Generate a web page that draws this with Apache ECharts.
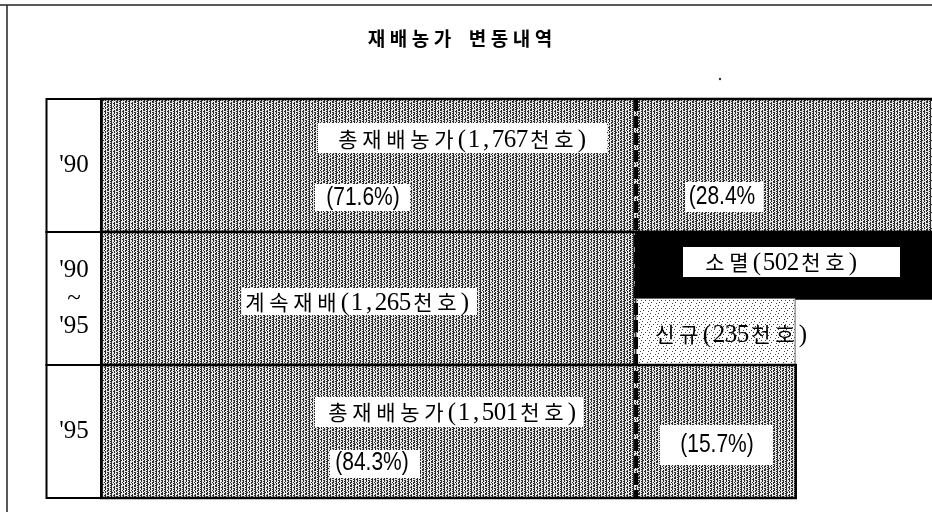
<!DOCTYPE html>
<html>
<head>
<meta charset="utf-8">
<title>재배농가 변동내역</title>
<script src="https://cdn.jsdelivr.net/npm/echarts/dist/echarts.min.js"></script>
<style>
  html, body { margin: 0; padding: 0; background: #fff; }
  #chart { width: 932px; height: 512px; }
</style>
</head>
<body>
<div id="chart"></div>
<script>
// 재배농가 변동내역 (단위: 천호)
const rowLabels = ["'90", "'90\n~\n'95", "'95"]
const farms1990 = 1767
const keptFarms = 1265
const lostFarms = 502
const newFarms = 235
const farms1995 = 1501
const share1990 = [71.6, 28.4]
const share1995 = [84.3, 15.7]

// 원본 도표는 비례가 아닌 모식도라서 로그 축으로 그 비율을 맞춘다
const scaleMin = 713
const scaleMax = 1737

const fmt = v => v.toLocaleString('en-US')

// 망점 무늬 (스캔한 회색 / 점 무늬 흉내)
function makeTile(rows, dark, light) {
  const c = document.createElement('canvas')
  c.width = rows[0].length
  c.height = rows.length
  const ctx = c.getContext('2d')
  rows.forEach((r, y) => {
    for (let x = 0; x < r.length; x++) {
      ctx.fillStyle = r[x] === '1' ? dark : light
      ctx.fillRect(x, y, 1, 1)
    }
  })
  return { image: c, repeat: 'repeat' }
}
const greyFill = makeTile([
  '100100101',
  '101100100',
  '100101001',
  '001100101',
  '100110100',
  '101100001',
  '100100101',
  '001101100'
], '#2e2e2e', '#e6e6e6')
const dotFill = makeTile([
  '00000000',
  '00100000',
  '00000001',
  '00000000',
  '01000100',
  '00000000',
  '00010000',
  '10000000'
], '#444444', '#ffffff')

// [시작, 끝, 행, 띠 시작, 띠 끝]
const segData = [
  [scaleMin, farms1990, 0, 0, 1],
  [scaleMin, keptFarms, 1, 0, 1],
  [keptFarms, keptFarms + lostFarms, 1, 0, 0.5],
  [keptFarms, keptFarms + newFarms, 1, 0.5, 1],
  [scaleMin, farms1995, 2, 0, 1]
]
const segFills = [greyFill, greyFill, '#000000', dotFill, greyFill]
const segStrokes = [2.5, 2.5, 2.5, 1, 2.5]

// 글자 간격이 넓은 원본 글꼴을 흉내내려고 한 글자씩 배치
function monoText(str, cx, cy, opt) {
  const pitch = opt.pitch
  const isHangul = ch => /[\uac00-\ud7a3]/.test(ch)
  const adv = ch => isHangul(ch) ? pitch : (ch === ' ' ? opt.space || pitch / 2 : pitch / 2)
  const chars = Array.from(str)
  const total = chars.reduce((s, ch) => s + adv(ch), 0)
  let x = cx - total / 2
  const out = []
  chars.forEach(ch => {
    const a = adv(ch)
    const hangul = isHangul(ch)
    if (ch !== ' ') {
      out.push({
        type: 'text',
        x: x + a / 2,
        y: cy + (hangul ? 0 : 1),
        z: 110,
        style: {
          text: ch,
          fill: '#000',
          fontSize: hangul ? opt.size : opt.size + 4,
          fontWeight: opt.weight || 'normal',
          fontFamily: hangul ? '"Noto Sans CJK KR", sans-serif' : '"Liberation Serif", "DejaVu Serif", serif',
          align: 'center', textAlign: 'center',
          verticalAlign: 'middle', textVerticalAlign: 'middle'
        }
      })
    }
    x += a
  })
  return out
}

const notes = [
  { text: `총재배농가(${fmt(farms1990)}천호)`, at: [462, 139], box: [318, 123, 607, 153] },
  { text: `(${share1990[0]}%)`, at: [363, 198], box: [315, 184, 410, 211], pct: true },
  { text: `(${share1990[1]}%`, at: [722, 197], box: [685, 182, 763, 212], pct: true },
  { text: `계속재배(${fmt(keptFarms)}천호)`, at: [357, 302], box: [242, 288, 477, 315] },
  { text: `소멸(${lostFarms}천호)`, at: [781, 262], box: [683, 247, 900, 277] },
  { text: `신규(${newFarms}천호)`, at: [731, 334] },
  { text: `총재배농가(${fmt(farms1995)}천호)`, at: [452, 412], box: [315, 397, 583, 427] },
  { text: `(${share1995[0]}%)`, at: [372, 463], box: [330, 450, 420, 478], pct: true },
  { text: `(${share1995[1]}%)`, at: [717, 445], box: [660, 425, 773, 465], pct: true }
]

const graphics = [
  // 바깥 테두리
  { type: 'line', z: 120, shape: { x1: 0, y1: 5, x2: 932, y2: 5 }, style: { stroke: '#222', lineWidth: 1.5 } },
  { type: 'line', z: 120, shape: { x1: 7, y1: 5, x2: 7, y2: 512 }, style: { stroke: '#222', lineWidth: 1.5 } },
  { type: 'circle', z: 120, shape: { cx: 720, cy: 79, r: 1.2 }, style: { fill: '#333' } }
]
graphics.push(...monoText('재배농가 변동내역', 460, 39, { pitch: 22, space: 13, size: 19, weight: 'bold' }))
notes.forEach(n => {
  if (n.box) {
    graphics.push({
      type: 'rect', z: 100,
      shape: { x: n.box[0], y: n.box[1], width: n.box[2] - n.box[0], height: n.box[3] - n.box[1] },
      style: { fill: '#fff' }
    })
  }
  if (n.pct) {
    graphics.push({
      type: 'text', x: n.at[0], y: n.at[1], z: 110,
      scaleX: 0.84,
      style: {
        text: n.text, fill: '#000', fontSize: 25,
        fontFamily: '"Liberation Sans", sans-serif',
        align: 'center', textAlign: 'center',
        verticalAlign: 'middle', textVerticalAlign: 'middle'
      }
    })
  } else {
    graphics.push(...monoText(n.text, n.at[0], n.at[1], { pitch: 24, size: 21 }))
  }
})

const myChart = echarts.init(document.getElementById('chart'))
myChart.setOption({
  animation: false,
  grid: { left: 101, right: 0, top: 99, bottom: 14 },
  xAxis: {
    type: 'log',
    min: scaleMin,
    max: scaleMax,
    show: false
  },
  yAxis: {
    type: 'category',
    data: rowLabels,
    inverse: true,
    z: 10,
    axisLine: { show: false },
    axisTick: { show: false },
    splitLine: { show: false },
    axisLabel: {
      align: 'center',
      margin: 27,
      color: '#000',
      fontSize: 25,
      lineHeight: 28,
      fontFamily: '"Liberation Serif", "DejaVu Serif", serif'
    }
  },
  series: [
    {
      type: 'custom',
      encode: { x: [0, 1], y: 2 },
      data: segData,
      renderItem(params, api) {
        const cs = params.coordSys
        const row = api.value(2)
        const bandH = cs.height / rowLabels.length
        const start = api.coord([api.value(0), row])
        const end = api.coord([api.value(1), row])
        const top = start[1] - bandH / 2
        const x1 = Math.min(end[0], cs.x + cs.width + 3)
        const children = [{
          type: 'rect',
          shape: {
            x: start[0],
            y: top + api.value(3) * bandH,
            width: x1 - start[0],
            height: (api.value(4) - api.value(3)) * bandH
          },
          style: {
            fill: segFills[params.dataIndex],
            stroke: params.dataIndex === 3 ? '#666' : '#000',
            lineWidth: segStrokes[params.dataIndex]
          }
        }]
        if (api.value(0) === scaleMin) {
          children.push({
            type: 'rect',
            shape: { x: cs.x - 54.5, y: top, width: 54.5, height: bandH },
            style: { fill: '#fff', stroke: '#000', lineWidth: 2 }
          })
        }
        return { type: 'group', children }
      }
    },
    {
      // 계속재배 경계 점선
      type: 'custom',
      z: 5,
      encode: { x: 0, y: 1 },
      data: [[keptFarms, 0]],
      renderItem(params, api) {
        const cs = params.coordSys
        const x = api.coord([api.value(0), api.value(1)])[0]
        return {
          type: 'line',
          shape: { x1: x, y1: cs.y, x2: x, y2: cs.y + cs.height },
          style: { stroke: '#000', lineWidth: 4, lineDash: [12, 5] }
        }
      }
    }
  ],
  graphic: graphics
})
</script>
</body>
</html>
